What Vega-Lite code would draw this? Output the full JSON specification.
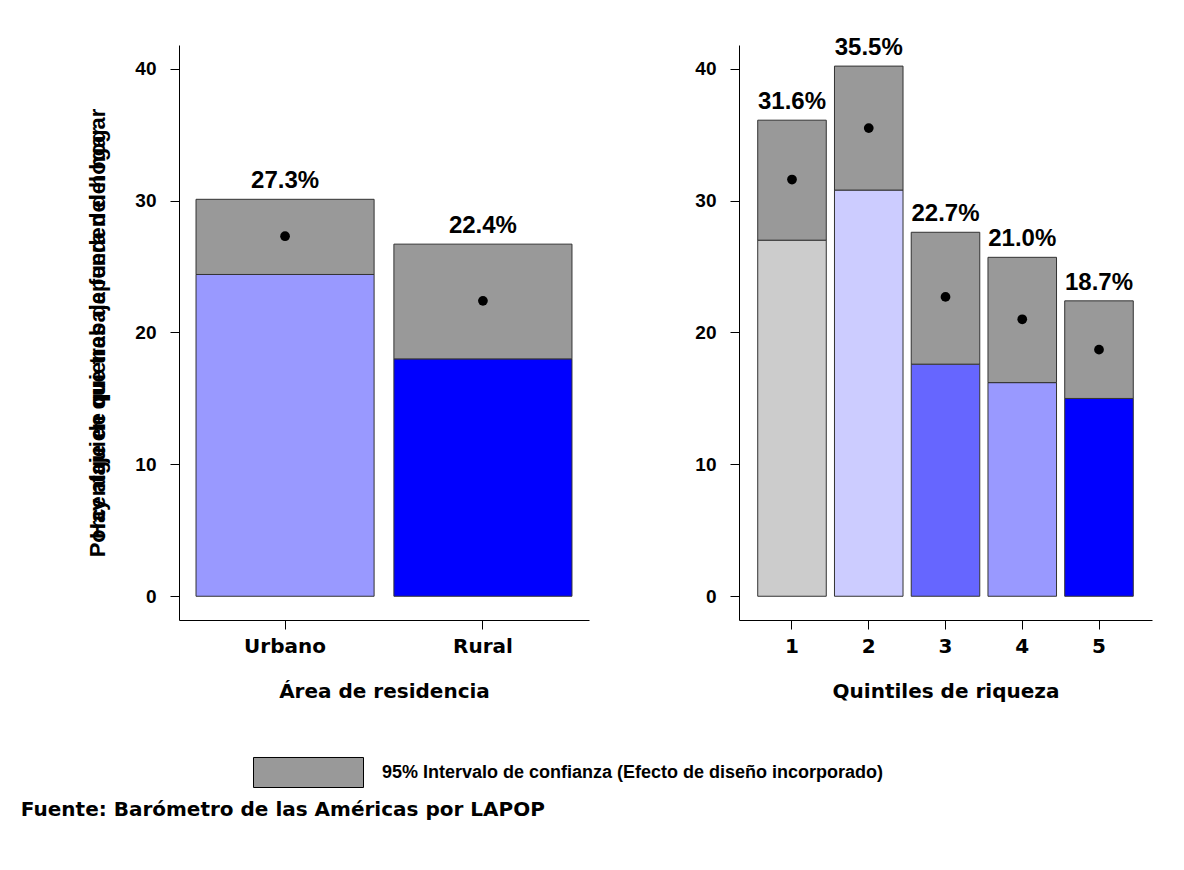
{
  "$schema": "https://vega.github.io/schema/vega-lite/v6.json",
  "background": "white",
  "padding": {"left": 20, "top": 36, "right": 5, "bottom": 5},
  "bounds": "flush",
  "datasets": {
    "area": [
      {"grupo": "Urbano", "media": 27.3, "li": 24.4, "ls": 30.1},
      {"grupo": "Rural", "media": 22.4, "li": 18.0, "ls": 26.7}
    ],
    "quintil": [
      {"quintil": "1", "media": 31.6, "li": 27.0, "ls": 36.1},
      {"quintil": "2", "media": 35.5, "li": 30.8, "ls": 40.2},
      {"quintil": "3", "media": 22.7, "li": 17.6, "ls": 27.6},
      {"quintil": "4", "media": 21.0, "li": 16.2, "ls": 25.7},
      {"quintil": "5", "media": 18.7, "li": 15.0, "ls": 22.4}
    ]
  },
  "title": {
    "text": "Fuente: Barómetro de las Américas por LAPOP",
    "orient": "bottom",
    "anchor": "start",
    "frame": "bounds",
    "font": "DejaVu Sans",
    "fontSize": 20,
    "fontWeight": "bold",
    "color": "#000",
    "offset": 10,
    "dx": -66
  },
  "config": {
    "view": {"stroke": null},
    "axis": {
      "grid": false,
      "domainColor": "#000",
      "tickColor": "#000",
      "tickSize": 9,
      "labelColor": "#000",
      "titleColor": "#000"
    }
  },
  "resolve": {"scale": {"x": "independent", "y": "independent", "color": "independent", "fill": "independent"}},
  "spacing": 150,
  "hconcat": [
    {
      "width": 410,
      "height": 575,
      "data": {"name": "area"},
      "transform": [{"calculate": "format(datum.media, '.1f') + '%'", "as": "etiqueta"}],
      "encoding": {
        "x": {
          "field": "grupo", "type": "nominal", "sort": ["Urbano", "Rural"],
          "scale": {"paddingInner": 0.1, "paddingOuter": 0.086},
          "axis": {
            "title": "Área de residencia", "labelAngle": 0,
            "labelFont": "DejaVu Sans", "labelFontSize": 20, "labelFontWeight": "bold", "labelPadding": 7,
            "titleFont": "DejaVu Sans", "titleFontSize": 20, "titleFontWeight": "bold", "titlePadding": 25
          }
        }
      },
      "layer": [
        {
          "mark": {"type": "bar", "stroke": "#333", "strokeWidth": 1},
          "encoding": {
            "y": {
              "field": "li", "type": "quantitative",
              "scale": {"domain": [-1.8, 41.8], "nice": false, "zero": false},
              "axis": {
                "values": [0, 10, 20, 30, 40],
                "title": ["Porcentaje de quienes dependen del hogar", "Hay alguien que trabaja fuera del hogar"],
                "titleLineHeight": 0,
                "titleFont": "Liberation Sans", "titleFontSize": 22, "titleFontWeight": "bold",
                "titlePadding": 25,
                "labelFont": "Liberation Sans", "labelFontSize": 19, "labelFontWeight": "bold", "labelPadding": 14
              }
            },
            "y2": {"datum": 0},
            "color": {
              "field": "grupo", "type": "nominal",
              "scale": {"domain": ["Urbano", "Rural"], "range": ["#9999FF", "#0000FF"]},
              "legend": null
            }
          }
        },
        {
          "mark": {"type": "bar", "stroke": "#333", "strokeWidth": 1},
          "encoding": {
            "y": {"field": "ls", "type": "quantitative"},
            "y2": {"field": "li"},
            "fill": {
              "datum": "95% Intervalo de confianza (Efecto de diseño incorporado)",
              "scale": {"range": ["#999999"]},
              "legend": {
                "orient": "none", "legendX": 74, "legendY": 672, "title": null,
                "symbolType": "M-1,-0.273L1,-0.273L1,0.273L-1,0.273Z",
                "symbolSize": 12100,
                "symbolStrokeColor": "#000", "symbolStrokeWidth": 1,
                "labelFont": "Liberation Sans", "labelFontSize": 18, "labelFontWeight": "bold",
                "labelColor": "#000", "labelOffset": 18, "labelLimit": 0
              }
            }
          }
        },
        {
          "mark": {"type": "point", "filled": true, "shape": "circle", "size": 95, "color": "#000", "opacity": 1},
          "encoding": {"y": {"field": "media", "type": "quantitative"}}
        },
        {
          "mark": {"type": "text", "font": "Liberation Sans", "fontSize": 24, "fontWeight": "bold", "color": "#000", "baseline": "alphabetic", "dy": -11},
          "encoding": {"y": {"field": "ls", "type": "quantitative"}, "text": {"field": "etiqueta"}}
        }
      ]
    },
    {
      "width": 413,
      "height": 575,
      "data": {"name": "quintil"},
      "transform": [{"calculate": "format(datum.media, '.1f') + '%'", "as": "etiqueta"}],
      "encoding": {
        "x": {
          "field": "quintil", "type": "nominal", "sort": ["1", "2", "3", "4", "5"],
          "scale": {"paddingInner": 0.107, "paddingOuter": 0.244},
          "axis": {
            "title": "Quintiles de riqueza", "labelAngle": 0,
            "labelFont": "DejaVu Sans", "labelFontSize": 20, "labelFontWeight": "bold", "labelPadding": 7,
            "titleFont": "DejaVu Sans", "titleFontSize": 20, "titleFontWeight": "bold", "titlePadding": 25
          }
        }
      },
      "layer": [
        {
          "mark": {"type": "bar", "stroke": "#333", "strokeWidth": 1},
          "encoding": {
            "y": {
              "field": "li", "type": "quantitative",
              "scale": {"domain": [-1.8, 41.8], "nice": false, "zero": false},
              "axis": {
                "values": [0, 10, 20, 30, 40], "title": null,
                "labelFont": "Liberation Sans", "labelFontSize": 19, "labelFontWeight": "bold", "labelPadding": 14
              }
            },
            "y2": {"datum": 0},
            "color": {
              "field": "quintil", "type": "nominal",
              "scale": {"domain": ["1", "2", "3", "4", "5"], "range": ["#CCCCCC", "#CCCCFF", "#6666FF", "#9999FF", "#0000FF"]},
              "legend": null
            }
          }
        },
        {
          "mark": {"type": "bar", "stroke": "#333", "strokeWidth": 1, "fill": "#999999"},
          "encoding": {
            "y": {"field": "ls", "type": "quantitative"},
            "y2": {"field": "li"}
          }
        },
        {
          "mark": {"type": "point", "filled": true, "shape": "circle", "size": 95, "color": "#000", "opacity": 1},
          "encoding": {"y": {"field": "media", "type": "quantitative"}}
        },
        {
          "mark": {"type": "text", "font": "Liberation Sans", "fontSize": 24, "fontWeight": "bold", "color": "#000", "baseline": "alphabetic", "dy": -11},
          "encoding": {"y": {"field": "ls", "type": "quantitative"}, "text": {"field": "etiqueta"}}
        }
      ]
    }
  ]
}
